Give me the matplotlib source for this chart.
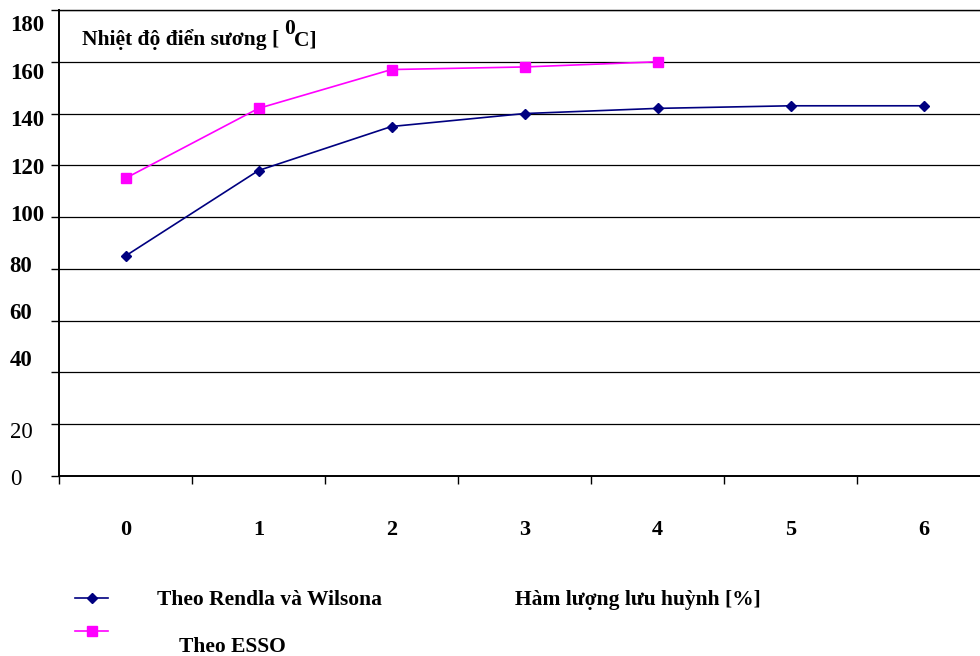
import matplotlib
matplotlib.use("Agg")
import matplotlib.pyplot as plt
from matplotlib.lines import Line2D
from matplotlib.transforms import ScaledTranslation

# Sulfur content (%) and dew-point temperature (°C)
sulfur_pct = [0, 1, 2, 3, 4, 5, 6]
rendla_wilsona = [85, 118, 135, 140, 142, 143, 143]
esso = [115, 142, 157, 158, 160]
y_ticks = [0, 20, 40, 60, 80, 100, 120, 140, 160, 180]
x_labels = ["0", "1", "2", "3", "4", "5", "6"]

series_names = ["Theo Rendla và Wilsona", "Theo ESSO"]
x_title = "Hàm lượng lưu huỳnh [%]"
y_title = "Nhiệt độ điển sương ["

plt.rcParams["font.family"] = ["Liberation Serif", "DejaVu Serif"]

W, H = 980, 656
DPI = 100
fig = plt.figure(figsize=(W / DPI, H / DPI), dpi=DPI)

def fx(px):
    return px / W

def fy(py):
    return 1 - py / H

left, right, top, bottom = 59, 990, 10, 476
ax = fig.add_axes([fx(left), fy(bottom), (right - left) / W, (bottom - top) / H])

navy = "#000080"
magenta = "#FF00FF"

ax.plot(sulfur_pct, rendla_wilsona, color=navy, lw=1.2, marker="D", ms=5,
        mfc=navy, mec=navy, zorder=3)
ax.plot(sulfur_pct[:len(esso)], esso, color=magenta, lw=1.2, marker="s", ms=6.5,
        mfc=magenta, mec=magenta, zorder=3)

ax.set_xlim(-0.5, 6.5)
ax.set_ylim(0, 180)

# horizontal gridlines
ax.set_yticks(y_ticks)
ax.yaxis.grid(True, color="black", lw=0.9)
ax.set_axisbelow(True)

for s in ["left", "bottom", "top"]:
    ax.spines[s].set_color("black")
    ax.spines[s].set_linewidth(1.4)
ax.spines["top"].set_linewidth(1.0)
ax.spines["right"].set_visible(False)

# y tick labels: left aligned, some bold
ax.tick_params(axis="y", direction="out", length=6, width=1, color="black",
               pad=29.5)
ax.set_yticklabels([str(v) for v in y_ticks])
y_offsets = {180: 13, 160: 9, 140: 4, 120: 1, 100: -4, 80: -5, 60: -10,
             40: -14, 20: 6, 0: 1}
for v, lab in zip(y_ticks, ax.get_yticklabels()):
    lab.set_horizontalalignment("left")
    lab.set_fontsize(16.5)
    lab.set_fontweight("normal" if v in (0, 20) else "bold")
    lab.set_transform(lab.get_transform() +
                      ScaledTranslation(0, -y_offsets[v] / DPI, fig.dpi_scale_trans))

# x: labels at category centres, tick marks at category boundaries
ax.set_xticks(sulfur_pct)
ax.set_xticklabels(x_labels, fontsize=16, fontweight="bold")
ax.set_xticks([i - 0.5 for i in range(len(sulfur_pct) + 1)], minor=True)
ax.tick_params(axis="x", which="major", length=0, pad=32)
ax.tick_params(axis="x", which="minor", direction="out", length=6, width=1,
               color="black")

# axis title inside the plot
fig.text(fx(82), fy(40), y_title, fontsize=15.5, fontweight="bold",
         ha="left", va="center")
fig.text(fx(290), fy(29), "0", fontsize=15.5, fontweight="bold",
         ha="center", va="center")
fig.text(fx(294), fy(40), "C]", fontsize=15.5, fontweight="bold",
         ha="left", va="center")

# legend and x title
fig.add_artist(Line2D([fx(75), fx(108)], [fy(598), fy(598)], color=navy, lw=1.2))
fig.add_artist(Line2D([fx(91.5)], [fy(598)], color=navy, marker="D", ms=5,
                      mfc=navy, mec=navy))
fig.add_artist(Line2D([fx(75), fx(108)], [fy(631), fy(631)], color=magenta, lw=1.2))
fig.add_artist(Line2D([fx(91.5)], [fy(631)], color=magenta, marker="s", ms=6.5,
                      mfc=magenta, mec=magenta))
fig.text(fx(157), fy(600), series_names[0], fontsize=15.5, fontweight="bold",
         ha="left", va="center")
fig.text(fx(179), fy(647), series_names[1], fontsize=15.5, fontweight="bold",
         ha="left", va="center")
fig.text(fx(515), fy(600), x_title, fontsize=15.5, fontweight="bold",
         ha="left", va="center")

fig.savefig("out.png", dpi=DPI)
